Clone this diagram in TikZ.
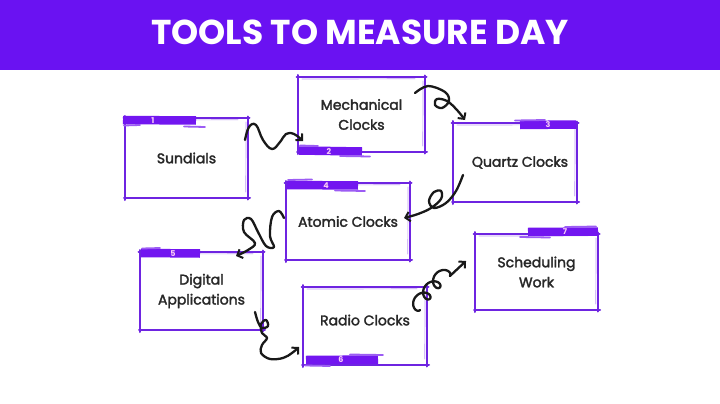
\documentclass[tikz,border=0pt]{standalone}
\usepackage{fontspec}
\setmainfont{Poppins}
\newfontfamily\boxfont{Poppins}[FakeBold=2.2]
\usetikzlibrary{arrows.meta}
\definecolor{hdr}{RGB}{106,18,242}
\definecolor{edgec}{RGB}{110,36,225}
\definecolor{tabc}{RGB}{114,22,240}
\definecolor{txt}{RGB}{40,40,40}
\definecolor{numc}{RGB}{250,205,245}
\tikzset{
  boxnode/.style={draw=none, outer sep=0pt, inner sep=0pt, align=center,
    font=\boxfont\fontsize{14}{20}\selectfont, text=txt},
  boxedge/.style={draw=edgec, line width=2pt, line cap=round},
  boxedgelite/.style={draw=edgec!45, line width=0.7pt, line cap=round},
  tabbar/.style={draw=tabc, line width=8.5pt},
  tablite/.style={draw=tabc!70, line width=1.8pt, line cap=round},
  tabnum/.style={font=\bfseries\fontsize{8}{8}\selectfont, text=numc, inner sep=0pt},
  squig/.style={draw=black!90, line width=2.3pt, line cap=round, line join=round,
    -{Straight Barb[length=4.5pt,width=9.5pt,line width=2pt]}}
}
\newcommand\skbox[1]{%
  \draw[boxedge] ([xshift=-1.5pt]#1.north west) -- ([xshift=1.5pt]#1.north east);
  \draw[boxedge] ([yshift=1.5pt]#1.north east) -- ([yshift=-1.5pt]#1.south east);
  \draw[boxedge] ([xshift=2pt]#1.south east) -- ([xshift=-1pt]#1.south west);
  \draw[boxedge] ([yshift=-2pt]#1.south west) -- ([yshift=2pt]#1.north west);
  \draw[boxedgelite] ([xshift=4pt,yshift=-2pt]#1.north west) -- ([xshift=-10pt,yshift=-1.8pt]#1.north east);
  \draw[boxedgelite] ([xshift=-2pt,yshift=-4pt]#1.north east) -- ([xshift=-2.2pt,yshift=6pt]#1.south east);
}
\begin{document}
\begin{tikzpicture}[x=1pt,y=-1pt]
\useasboundingbox (0,0) rectangle (720,404);
\fill[white] (0,0) rectangle (720,404);
\fill[hdr] (0,0) rectangle (720,70);
\node[font=\bfseries\fontsize{34.5}{34.5}\selectfont, text=white] (title) at (360,32) {TOOLS TO MEASURE DAY};

% boxes
\node[boxnode, minimum width=123pt, minimum height=80pt] (n1) at (186.5,158) {Sundials};
\node[boxnode, minimum width=127pt, minimum height=75pt] (n2) at (361.5,114.5) {Mechanical\\Clocks};
\node[boxnode, minimum width=124pt, minimum height=79pt] (n3) at (515,162.5) {\hspace*{10pt}Quartz Clocks};
\node[boxnode, minimum width=124pt, minimum height=77pt] (n4) at (348,221.5) {Atomic Clocks};
\node[boxnode, minimum width=123pt, minimum height=78pt] (n5) at (201.5,291) {Digital\\Applications};
\node[boxnode, minimum width=124pt, minimum height=78pt] (n6) at (365,326) {Radio Clocks\\[-8pt]\mbox{}};
\node[boxnode, minimum width=123pt, minimum height=76pt] (n7) at (536.5,272) {Scheduling\\Work};
\foreach \n in {n1,n2,n3,n4,n5,n6,n7} {\skbox{\n}}

% tabs
\draw[tabbar] (123,120) -- (196,120.5);
\draw[tablite] (124,125.5) -- (140,125);
\draw[tablite] (184,126.5) -- (205,127);
\node[tabnum] (t1) at (153,120.5) {1};

\draw[tabbar] (299,150.5) -- (362,151.5);
\draw[tablite] (300,145.5) -- (318,146);
\draw[tablite] (340,156) -- (370,156.5);
\node[tabnum] (t2) at (329,151.5) {2};

\draw[tabbar] (520,125) -- (576,124.5);
\draw[tablite] (515,120.5) -- (545,120);
\node[tabnum] (t3) at (548,125) {3};

\draw[tabbar] (287,185) -- (358,185.5);
\draw[tablite] (288,180) -- (312,179.5);
\draw[tablite] (335,190.5) -- (365,191);
\node[tabnum] (t4) at (326,185.5) {4};

\draw[tabbar] (141,253) -- (200,253.5);
\draw[tablite] (142,248.5) -- (160,248);
\node[tabnum] (t5) at (173,253.5) {5};

\draw[tabbar] (306,360) -- (378,359.5);
\draw[tablite] (305,365.5) -- (330,366);
\draw[tablite] (350,354.5) -- (383,355);
\node[tabnum] (t6) at (341,360) {6};

\draw[tabbar] (528,232) -- (598,231.5);
\draw[tablite] (520,237) -- (550,237.5);
\draw[tablite] (565,227) -- (596,226.5);
\node[tabnum] (t7) at (565,232) {7};

% connectors
\coordinate (c1s) at (245,140);
\coordinate (c1e) at (303,141);
\draw[squig] plot[smooth, tension=0.7] coordinates {(c1s) (249,127) (256,125) (263,140) (272,149) (280,142) (286,134) (294,134) (c1e)};

\coordinate (c2s) at (415,93);
\coordinate (c2e) at (465,120);
\draw[squig] plot[smooth, tension=0.6] coordinates {(c2s) (428,86) (445,92) (449,101) (442,108) (435,105) (437,99) (447,101) (457,110) (c2e)};

\coordinate (c3s) at (463,175);
\coordinate (c3e) at (404,218);
\draw[squig] plot[smooth, tension=0.6] coordinates {(c3s) (456,191) (446,203) (434,208) (429,201) (434,192) (441,191) (441,199) (431,208) (418,214) (c3e)};

\coordinate (c4s) at (284,218);
\coordinate (c4e) at (236,256);
\draw[squig] plot[smooth, tension=0.6] coordinates {(c4s) (279,211) (272,217) (270,236) (274,247) (266,246) (258,232) (251,219) (244,220) (244,232) (255,243) (248,250) (c4e)};

\coordinate (c5s) at (255,312);
\coordinate (c5e) at (299,347);
\draw[squig] plot[smooth, tension=0.6] coordinates {(c5s) (258,322) (262,328) (268,326) (266,320) (261,324) (262,333) (267,338) (262,345) (261,353) (270,359) (283,358) (292,353) (c5e)};

\coordinate (c6s) at (420,310);
\coordinate (c6e) at (466,261);
\draw[squig] (c6s) -- plot[smooth, domain=0:1080, samples=100]
  ({420 + 0.66*(2.4*\x*pi/180 - 6*sin(\x)) - 0.75*(6 - 6*cos(\x))},
   {310 - 0.75*(2.4*\x*pi/180 - 6*sin(\x)) - 0.66*(6 - 6*cos(\x))}) -- (c6e);
\end{tikzpicture}
\end{document}
